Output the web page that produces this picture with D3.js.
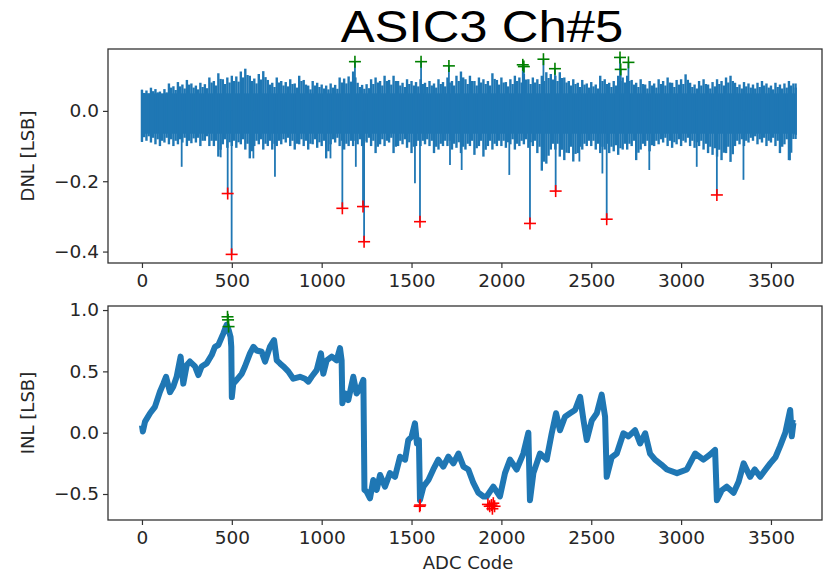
<!DOCTYPE html>
<html>
<head>
<meta charset="utf-8">
<script src="https://cdn.jsdelivr.net/npm/d3@7"></script>
<style>
  body { margin: 0; background: #fff; }
  svg { display: block; }
</style>
</head>
<body>
<svg id="chart"></svg>
<script>
// ---- data ----
const title = 'ASIC3 Ch#5';
const xTicks = [0, 500, 1000, 1500, 2000, 2500, 3000, 3500];
const dnlTicks = [-0.4, -0.2, 0.0];
const inlTicks = [-0.5, 0.0, 0.5, 1.0];

// DNL envelope, one value every 25 codes starting at code 0
const dnlStep = 25;
const dnlHigh = [
  0.060, 0.058, 0.066, 0.062, 0.055, 0.062, 0.078, 0.070, 0.082, 0.075, 0.088, 0.078,
  0.072, 0.080, 0.076, 0.095, 0.085, 0.107, 0.090, 0.095, 0.100, 0.098, 0.112, 0.120,
  0.100, 0.092, 0.105, 0.113, 0.088, 0.080, 0.095, 0.085, 0.082, 0.090, 0.078, 0.100,
  0.088, 0.072, 0.085, 0.080, 0.075, 0.072, 0.078, 0.074, 0.095, 0.092, 0.098, 0.112,
  0.080, 0.074, 0.076, 0.090, 0.095, 0.085, 0.100, 0.088, 0.100, 0.085, 0.080, 0.090,
  0.085, 0.082, 0.090, 0.080, 0.085, 0.078, 0.090, 0.082, 0.095, 0.085, 0.100, 0.112,
  0.090, 0.100, 0.085, 0.095, 0.090, 0.085, 0.107, 0.088, 0.095, 0.082, 0.090, 0.100,
  0.095, 0.105, 0.090, 0.095, 0.090, 0.100, 0.110, 0.105, 0.100, 0.110, 0.095, 0.085,
  0.090, 0.080, 0.088, 0.078, 0.082, 0.075, 0.100, 0.090, 0.080, 0.085, 0.100, 0.095,
  0.100, 0.088, 0.080, 0.090, 0.075, 0.085, 0.078, 0.090, 0.085, 0.095, 0.080, 0.088,
  0.090, 0.104, 0.080, 0.075, 0.085, 0.090, 0.075, 0.082, 0.090, 0.085, 0.095, 0.100,
  0.080, 0.075, 0.082, 0.078, 0.075, 0.080, 0.085, 0.078, 0.072, 0.080, 0.075, 0.078,
  0.085, 0.078
];
const dnlLow = [
  -0.088, -0.085, -0.090, -0.095, -0.100, -0.090, -0.095, -0.100, -0.095, -0.090, -0.100, -0.092,
  -0.090, -0.100, -0.085, -0.100, -0.100, -0.130, -0.095, -0.105, -0.100, -0.105, -0.095, -0.110,
  -0.135, -0.100, -0.095, -0.110, -0.100, -0.110, -0.100, -0.095, -0.090, -0.100, -0.110, -0.095,
  -0.100, -0.110, -0.095, -0.105, -0.100, -0.135, -0.095, -0.090, -0.100, -0.110, -0.100, -0.100,
  -0.095, -0.100, -0.090, -0.100, -0.120, -0.095, -0.100, -0.090, -0.120, -0.100, -0.095, -0.105,
  -0.120, -0.100, -0.100, -0.095, -0.100, -0.120, -0.110, -0.100, -0.100, -0.110, -0.105, -0.120,
  -0.110, -0.100, -0.125, -0.100, -0.130, -0.100, -0.110, -0.100, -0.100, -0.105, -0.095, -0.110,
  -0.100, -0.095, -0.105, -0.100, -0.120, -0.170, -0.150, -0.110, -0.110, -0.130, -0.140, -0.120,
  -0.144, -0.120, -0.110, -0.100, -0.100, -0.110, -0.120, -0.110, -0.120, -0.115, -0.125, -0.110,
  -0.110, -0.100, -0.140, -0.110, -0.100, -0.115, -0.100, -0.095, -0.090, -0.100, -0.105, -0.095,
  -0.100, -0.090, -0.100, -0.105, -0.100, -0.110, -0.120, -0.125, -0.130, -0.140, -0.120, -0.145,
  -0.100, -0.095, -0.100, -0.090, -0.085, -0.095, -0.090, -0.100, -0.090, -0.100, -0.120, -0.095,
  -0.140, -0.080
];
const dnlLastCode = 3638;
// narrow spikes that stick out of the band: [code, DNL]
const dnlSpikes = [
  [221, -0.159], [438, -0.132], [477, -0.235], [499, -0.408], [620, -0.135], [740, -0.187],
  [1049, -0.135], [1115, -0.277], [1190, -0.159], [1230, -0.272], [1236, -0.372],
  [1519, -0.206], [1547, -0.315], [1714, -0.154], [1779, -0.168], [2044, -0.182],
  [2159, -0.320], [2302, -0.228], [2434, -0.144], [2562, -0.178], [2586, -0.308],
  [2823, -0.168], [3087, -0.159], [3199, -0.239], [3347, -0.196], [3606, -0.140]
];
const dnlRed = [
  [477, -0.235], [499, -0.408], [1115, -0.277], [1230, -0.272], [1236, -0.372], [1547, -0.315],
  [2159, -0.320], [2302, -0.228], [2586, -0.308], [3199, -0.239]
];
const dnlGreen = [
  [1185, 0.140], [1553, 0.140], [1708, 0.128], [2119, 0.131], [2125, 0.126], [2234, 0.147],
  [2298, 0.120], [2660, 0.152], [2664, 0.118], [2707, 0.138]
];

// INL curve points [code, INL]
const inlPoints = [
  [0, 0.06], [5, 0.01], [17, 0.09], [45, 0.158], [72, 0.21], [100, 0.334], [119, 0.40],
  [134, 0.456], [156, 0.33], [174, 0.375], [193, 0.456], [215, 0.62], [230, 0.40], [249, 0.55],
  [267, 0.58], [295, 0.54], [314, 0.47], [332, 0.54], [360, 0.565], [388, 0.633], [406, 0.70],
  [425, 0.715], [453, 0.81], [471, 0.88], [484, 0.83], [493, 0.78], [497, 0.70], [500, 0.29],
  [508, 0.40], [527, 0.43], [555, 0.48], [573, 0.54], [601, 0.647], [620, 0.70], [638, 0.67],
  [666, 0.66], [685, 0.58], [712, 0.70], [735, 0.755], [750, 0.59], [768, 0.565], [787, 0.54],
  [814, 0.50], [842, 0.44], [879, 0.456], [907, 0.44], [926, 0.416], [944, 0.456], [972, 0.51],
  [996, 0.647], [1009, 0.48], [1028, 0.59], [1056, 0.62], [1083, 0.59], [1102, 0.69],
  [1111, 0.59], [1115, 0.24], [1130, 0.32], [1148, 0.266], [1176, 0.456], [1194, 0.32],
  [1213, 0.36], [1232, 0.43], [1238, -0.467], [1250, -0.48], [1269, -0.535], [1287, -0.386],
  [1306, -0.467], [1325, -0.345], [1352, -0.44], [1380, -0.33], [1408, -0.36], [1436, -0.196],
  [1464, -0.22], [1482, -0.06], [1500, -0.033], [1519, 0.076], [1530, -0.087], [1541, -0.06],
  [1547, -0.55], [1566, -0.44], [1594, -0.386], [1621, -0.30], [1649, -0.22], [1677, -0.277],
  [1705, -0.196], [1733, -0.25], [1761, -0.17], [1789, -0.277], [1816, -0.30], [1844, -0.41],
  [1872, -0.49], [1900, -0.52], [1918, -0.52], [1955, -0.44], [1992, -0.52], [2020, -0.33],
  [2048, -0.22], [2085, -0.30], [2122, -0.17], [2150, 0.0], [2159, -0.55], [2178, -0.33],
  [2215, -0.17], [2252, -0.22], [2280, -0.005], [2304, 0.158], [2326, 0.02], [2354, 0.13],
  [2382, 0.158], [2410, 0.185], [2438, 0.293], [2457, 0.10], [2475, -0.06], [2503, 0.10],
  [2531, 0.158], [2558, 0.31], [2577, 0.13], [2586, -0.36], [2614, -0.20], [2642, -0.17],
  [2679, -0.005], [2707, -0.03], [2744, 0.02], [2772, -0.087], [2800, -0.005], [2827, -0.17],
  [2855, -0.22], [2890, -0.26], [2921, -0.30], [2977, -0.33], [3032, -0.30], [3078, -0.17],
  [3124, -0.22], [3160, -0.18], [3189, -0.14], [3199, -0.55], [3226, -0.47], [3254, -0.44],
  [3292, -0.49], [3320, -0.40], [3348, -0.25], [3384, -0.36], [3410, -0.30], [3440, -0.36],
  [3470, -0.30], [3496, -0.25], [3525, -0.20], [3551, -0.11], [3580, 0.0], [3607, 0.185],
  [3616, -0.03], [3625, 0.08], [3634, 0.076]
];
const inlGreen = [[476, 0.945], [479, 0.92], [482, 0.865]];
const inlRed = [
  [1545, -0.60], [1548, -0.59], [1925, -0.585], [1935, -0.60], [1945, -0.59],
  [1950, -0.62], [1955, -0.575], [1962, -0.60]
];

// ---- drawing ----
const width = 824, height = 573;
const blue = '#1f77b4';
const tickFont = 'DejaVu Sans, sans-serif';

const svg = d3.select('#chart')
  .attr('width', width)
  .attr('height', height)
  .style('background', '#fff');

const x = d3.scaleLinear().domain([-189, 3784]).range([108, 822]);
const yDnl = d3.scaleLinear().domain([-0.4325, 0.176]).range([263, 49]);
const yInl = d3.scaleLinear().domain([-0.712, 1.033]).range([520, 306]);

// title (the picture's text is a little wider than the font)
svg.append('text')
  .attr('transform', 'translate(482,42) scale(1.13,1)')
  .attr('text-anchor', 'middle')
  .style('font-family', 'Liberation Sans, Arial, sans-serif')
  .style('font-size', '45px')
  .attr('fill', '#000')
  .text(title);

function drawFrame(y, ticks, label, xLabel) {
  const [y0, y1] = y.range();
  const g = svg.append('g');

  const xa = g.append('g')
    .attr('transform', `translate(0,${y0})`)
    .call(d3.axisBottom(x).tickValues(xTicks).tickFormat(d3.format('d'))
      .tickSize(5).tickPadding(6).tickSizeOuter(0));
  const ya = g.append('g')
    .attr('transform', `translate(${x.range()[0]},0)`)
    .call(d3.axisLeft(y).tickValues(ticks).tickFormat(d3.format('.1f'))
      .tickSize(5).tickPadding(4).tickSizeOuter(0));

  [xa, ya].forEach(a => {
    a.select('.domain').remove();
    a.selectAll('line').attr('stroke', '#333').attr('stroke-width', 1.2);
    a.selectAll('text')
      .style('font-family', tickFont)
      .style('font-size', '18.5px')
      .attr('fill', '#262626');
  });

  g.append('rect')
    .attr('x', x.range()[0])
    .attr('y', y1)
    .attr('width', x.range()[1] - x.range()[0])
    .attr('height', y0 - y1)
    .attr('fill', 'none')
    .attr('stroke', '#333')
    .attr('stroke-width', 1.3);

  g.append('text')
    .attr('transform', `translate(34,${(y0 + y1) / 2}) rotate(-90)`)
    .attr('text-anchor', 'middle')
    .style('font-family', tickFont)
    .style('font-size', '18px')
    .attr('fill', '#262626')
    .text(label);

  if (xLabel) {
    g.append('text')
      .attr('x', 468)
      .attr('y', y0 + 49)
      .attr('text-anchor', 'middle')
      .style('font-family', tickFont)
      .style('font-size', '18px')
      .attr('fill', '#262626')
      .text(xLabel);
  }
}

function drawPlus(g, pts, y, color) {
  const s = 6;
  pts.forEach(([c, v]) => {
    const px = x(c), py = y(v);
    g.append('line').attr('x1', px - s).attr('x2', px + s).attr('y1', py).attr('y2', py)
      .attr('stroke', color).attr('stroke-width', 1.6);
    g.append('line').attr('x1', px).attr('x2', px).attr('y1', py - s).attr('y2', py + s)
      .attr('stroke', color).attr('stroke-width', 1.6);
  });
}

// DNL panel
const dnl = svg.append('g');
const codes = dnlHigh.map((d, i) => i * dnlStep);

// dense core of the noise band
dnl.append('rect')
  .attr('x', x(0))
  .attr('width', x(dnlLastCode) - x(0))
  .attr('y', yDnl(0.05))
  .attr('height', yDnl(-0.065) - yDnl(0.05))
  .attr('fill', blue);

// comb of highs and lows
codes.forEach((c, i) => {
  [c, Math.min(c + dnlStep / 2, dnlLastCode)].forEach((cc, k) => {
    dnl.append('line')
      .attr('x1', x(cc)).attr('x2', x(cc))
      .attr('y1', yDnl(k ? dnlHigh[i] * 0.85 : dnlHigh[i]))
      .attr('y2', yDnl(k ? dnlLow[i] * 0.85 : dnlLow[i]))
      .attr('stroke', blue)
      .attr('stroke-width', 2.4);
  });
});
// edge lines at start / end of data
[[0, 0.060, -0.088], [dnlLastCode, 0.078, -0.080]].forEach(([c, hi, lo]) => {
  dnl.append('line')
    .attr('x1', x(c)).attr('x2', x(c))
    .attr('y1', yDnl(hi)).attr('y2', yDnl(lo))
    .attr('stroke', blue).attr('stroke-width', 2);
});

dnlSpikes.concat(dnlGreen).forEach(([c, v]) => {
  dnl.append('line')
    .attr('x1', x(c)).attr('x2', x(c))
    .attr('y1', yDnl(0)).attr('y2', yDnl(v))
    .attr('stroke', blue)
    .attr('stroke-width', 1.8);
});
drawPlus(dnl, dnlGreen, yDnl, '#008000');
drawPlus(dnl, dnlRed, yDnl, '#ff0000');
drawFrame(yDnl, dnlTicks, 'DNL [LSB]', null);

// INL panel
const inl = svg.append('g');
const line = d3.line()
  .x(d => x(d[0]))
  .y(d => yInl(d[1]));

inl.append('path')
  .datum(inlPoints)
  .attr('fill', 'none')
  .attr('stroke', blue)
  .attr('stroke-width', 6)
  .attr('stroke-linejoin', 'round')
  .attr('d', line);

drawPlus(inl, inlGreen, yInl, '#008000');
drawPlus(inl, inlRed, yInl, '#ff0000');
drawFrame(yInl, inlTicks, 'INL [LSB]', 'ADC Code');
</script>
</body>
</html>
